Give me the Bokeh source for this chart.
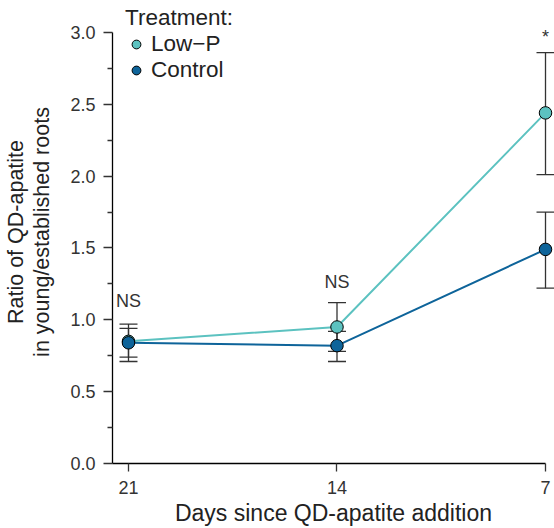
from bokeh.plotting import figure
from bokeh.models import (Range1d, FixedTicker, Whisker, ColumnDataSource, TeeHead,
                          Legend, LegendItem, LinearAxis, NumeralTickFormatter)
from bokeh.embed import file_html
from bokeh.resources import INLINE
from bokeh.core.properties import value

# ---- data ----
days = [21, 14, 7]
lowp_mean = [0.85, 0.95, 2.44]
lowp_lower = [0.71, 0.78, 2.01]
lowp_upper = [0.97, 1.12, 2.86]
ctrl_mean = [0.84, 0.82, 1.49]
ctrl_lower = [0.74, 0.71, 1.22]
ctrl_upper = [0.94, 0.92, 1.75]
sig_labels = ["NS", "NS", "*"]
sig_y = [1.13, 1.26, 2.97]
y_ticks = [0.0, 0.5, 1.0, 1.5, 2.0, 2.5, 3.0]
y_minor = [0.25, 0.75, 1.25, 1.75, 2.25, 2.75]
x_ticks = [21, 14, 7]

FONT = "Liberation Sans"
LOWP = "#5cc2c0"
CTRL = "#0e649a"

p = figure(width=554, height=528, output_backend="svg", toolbar_location=None,
           x_range=Range1d(21.537, 6.698), y_range=Range1d(0, 3.2222),
           min_border_left=112, min_border_right=0, min_border_top=0,
           min_border_bottom=64, x_axis_type=None, y_axis_type=None)
p.outline_line_color = None
p.background_fill_color = "white"

xaxis = LinearAxis(ticker=FixedTicker(ticks=x_ticks), bounds=(7, 21.537),
                   axis_label="Days since QD-apatite addition")
yaxis = LinearAxis(ticker=FixedTicker(ticks=y_ticks, minor_ticks=y_minor), bounds=(0, 3),
                   formatter=NumeralTickFormatter(format="0.0"),
                   axis_label="Ratio of QD-apatite\nin young/established roots")
for ax in (xaxis, yaxis):
    ax.axis_line_color = "black"
    ax.axis_line_width = 1.3
    ax.major_tick_line_color = "#333333"
    ax.major_tick_line_width = 1.3
    ax.minor_tick_line_color = "#333333"
    ax.minor_tick_line_width = 1.3
    ax.major_tick_in = 0
    ax.minor_tick_in = 0
    ax.major_label_text_font = FONT
    ax.major_label_text_font_size = "18px"
    ax.major_label_text_color = "#333333"
    ax.axis_label_text_font = FONT
    ax.axis_label_text_font_style = "normal"
    ax.axis_label_text_color = "#222222"
xaxis.axis_label_text_font_size = "23px"
xaxis.axis_label_text_line_height = 1.0
yaxis.axis_label_text_font_size = "21.5px"
yaxis.axis_label_text_line_height = 1.1
xaxis.major_tick_out = 8
xaxis.minor_tick_out = 0
xaxis.major_label_standoff = 9
xaxis.axis_label_standoff = 3
yaxis.major_tick_out = 9
yaxis.minor_tick_out = 5
yaxis.major_label_standoff = 8
yaxis.axis_label_standoff = 13
p.add_layout(xaxis, "below")
p.add_layout(yaxis, "left")

lp_src = ColumnDataSource(dict(x=days, y=lowp_mean, lower=lowp_lower, upper=lowp_upper))
ct_src = ColumnDataSource(dict(x=days, y=ctrl_mean, lower=ctrl_lower, upper=ctrl_upper))

for src in (lp_src, ct_src):
    w = Whisker(source=src, base="x", upper="upper", lower="lower",
                line_color="#333333", line_width=1.3,
                upper_head=TeeHead(size=18, line_color="#333333", line_width=1.3),
                lower_head=TeeHead(size=18, line_color="#333333", line_width=1.3))
    p.add_layout(w)

p.line("x", "y", source=lp_src, line_color=LOWP, line_width=2)
p.line("x", "y", source=ct_src, line_color=CTRL, line_width=2)
lp_pts = p.scatter("x", "y", source=lp_src, size=12.5, fill_color=LOWP,
                   line_color="black", line_width=1)
ct_pts = p.scatter("x", "y", source=ct_src, size=12.5, fill_color=CTRL,
                   line_color="black", line_width=1)

p.text(x=days, y=sig_y, text=sig_labels, text_align="center", text_baseline="middle",
       text_font=value(FONT), text_font_size="18px", text_color="#333333")

legend = Legend(items=[LegendItem(label="Low\u2212P", renderers=[lp_pts]),
                       LegendItem(label="Control", renderers=[ct_pts])],
                title="Treatment:", location=(13, 380))
legend.title_text_font = FONT
legend.title_text_font_size = "22.5px"
legend.title_text_font_style = "normal"
legend.title_text_color = "#222222"
legend.title_standoff = 0
legend.label_text_font = FONT
legend.label_text_font_size = "22.5px"
legend.label_text_color = "#222222"
legend.background_fill_alpha = 0
legend.border_line_color = None
legend.padding = 0
legend.spacing = 0
legend.margin = 0
legend.glyph_width = 22
legend.glyph_height = 22
legend.label_standoff = 4
legend.label_height = 22
p.add_layout(legend)

open("out.html", "w").write(file_html(p, INLINE))
